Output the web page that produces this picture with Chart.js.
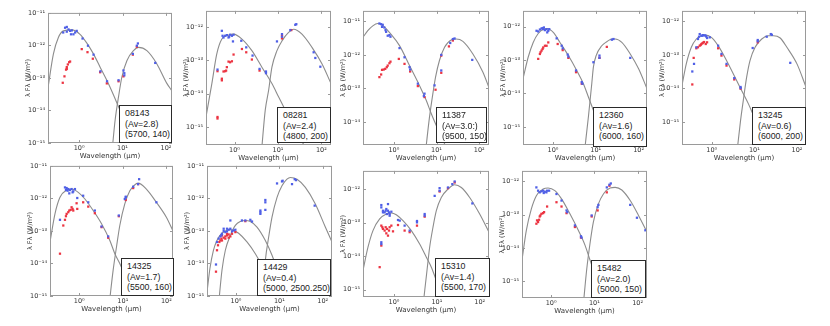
<!DOCTYPE html>
<html>
<head>
<meta charset="utf-8">
<script src="https://cdn.jsdelivr.net/npm/chart.js@4.4.1/dist/chart.umd.min.js"></script>
<style>
  body { margin: 0; width: 830px; height: 326px; background: #fff; position: relative; overflow: hidden; }
  canvas { position: absolute; }
  .tag {
    position: absolute; box-sizing: border-box; background: #fff;
    border: 1.8px solid #2a2a2a; padding: 2px 0 0 5px;
    font: 8.8px/10.6px "Liberation Sans", Arial, sans-serif; color: #222; white-space: nowrap;
  }
</style>
</head>
<body>
<script>
// ---- panel labels ----
const ids = ['08143', '08281', '11387', '12360', '13245', '14325', '14429', '15310', '15482'];
const avText = ['(Av=2.8)', '(Av=2.4)', '(Av=3.0:)', '(Av=1.6)', '(Av=0.6)', '(Av=1.7)', '(Av=0.4)', '(Av=1.4)', '(Av=2.0)'];
const fitText = ['(5700, 140)', '(4800, 200)', '(9500, 150)', '(6000, 160)', '(6000, 200)', '(5500, 160)', '(5000, 2500.250)', '(5500, 170)', '(5000, 150)'];

// ---- axis limits (wavelength in um, lambda F_lambda in W/m2) ----
const xMin = [0.192, 0.22, 0.19, 0.2, 0.2, 0.213, 0.214, 0.189, 0.212];
const xMax = [138, 167, 169, 157, 163, 142, 164, 165, 165];
const yMin = [1e-15, 2.9e-16, 2.03e-15, 2.85e-16, 2.03e-16, 1e-15, 1e-15, 6.05e-16, 3.2e-16];
const yMax = [1e-11, 3e-12, 2.07e-11, 3e-12, 2.07e-12, 1e-11, 1e-11, 3.5e-12, 2.07e-12];

// ---- 08143 ----
const blue08143 = [[0.475,3.5e-12],[0.52,3.7e-12],[0.57,3.1e-12],[0.43,2.5e-12],[0.62,2.8e-12],[0.68,2.9e-12],[0.52,2.65e-12],[0.81,2.5e-12],[0.88,2.8e-12],[0.74,2.2e-12],[0.65,2.2e-12],[1.2,1.63e-12],[1.6,9.8e-13],[2.15,5.2e-13],[3.1,1.6e-13],[4.4,7.9e-14],[8.1,8.5e-14],[10.5,1.7e-13],[11,1.4e-13],[11,1.2e-13],[17.3,5.5e-13],[21.4,9.8e-13],[22.6,1.15e-12],[56.7,2.9e-13]];
const red08143 = [[0.42,7.1e-14],[0.46,1.12e-13],[0.5,1.8e-13],[0.52,2.15e-13],[0.55,2.6e-13],[0.59,3.05e-13],[0.62,3.2e-13],[0.52,1.9e-13],[1.15,7.7e-13],[1.56,6.2e-13],[2.07,3.9e-13],[3.05,1.5e-13],[4.35,6.8e-14],[8.1,7.9e-14],[10.5,1.12e-13],[17.3,5.2e-13],[21.4,9.1e-13]];
const star08143 = [[0.192,5e-14],[0.256,5.5e-13],[0.333,1.75e-12],[0.435,2.8e-12],[0.68,3.0e-12],[1.05,2.2e-12],[1.56,1.1e-12],[2.14,5.5e-13],[3.05,2.15e-13],[4.35,8.5e-14],[6.2,3.0e-14],[8.1,1.3e-14],[11,5e-15],[15,2e-15],[20,8e-16]];
const dust08143 = [[5.7,5e-16],[5.98,1e-15],[6.77,5.2e-15],[8.1,2.65e-14],[9.66,1.07e-13],[12.6,3.4e-13],[17.9,6.9e-13],[23.4,8.7e-13],[36.4,6.9e-13],[61.9,2.7e-13],[105,6.8e-14],[138,4e-14]];

// ---- 08281 ----
const blue08281 = [[0.405,5.25e-14],[0.51,7.6e-13],[0.53,5.4e-13],[0.557,4.8e-13],[0.61,5.4e-13],[0.665,5.65e-13],[0.727,4.8e-13],[0.75,5.05e-13],[0.79,5.8e-13],[0.87,5.4e-13],[0.92,3.66e-13],[0.95,5.8e-13],[1.43,3.83e-13],[1.86,2.43e-13],[2.6,1.38e-13],[3.77,5.5e-14],[5.3,4.1e-14],[5.3,4.6e-14],[9.5,3.66e-13],[12.4,6.05e-13],[12.4,5.05e-13],[19.3,8.0e-13],[25.1,1.15e-12],[26.5,1.2e-12],[66.5,1.73e-13],[72.7,1.17e-13],[94.8,6.4e-14]];
const red08281 = [[0.405,1.8e-15],[0.405,2.0e-15],[0.405,4.7e-14],[0.51,2.8e-14],[0.51,2.5e-14],[0.557,4.6e-14],[0.61,4.7e-14],[0.64,4.9e-14],[0.665,6.2e-14],[0.727,9.1e-14],[0.79,8.7e-14],[0.87,9.3e-14],[0.95,1.48e-13],[1.48,2.17e-13],[1.86,1.73e-13],[2.51,1.05e-13],[3.77,4.9e-14],[12.4,5.4e-13],[12.4,4.5e-13],[20.3,8.0e-13]];
const star08281 = [[0.22,2.0e-15],[0.30,2.0e-14],[0.39,1.55e-13],[0.51,4.3e-13],[0.727,5.65e-13],[0.95,6.05e-13],[1.48,4.3e-13],[2.51,1.94e-13],[4.27,6.2e-14],[7.27,2.0e-14],[10.4,7.9e-15],[14.8,3.2e-15],[21,1.3e-15],[30,5.1e-16],[42.7,2.6e-16]];
const dust08281 = [[4.2,2e-16],[5.1,3.2e-15],[6.1,1.26e-14],[7.27,6.2e-14],[9.5,1.94e-13],[12.4,3.8e-13],[17.6,6.8e-13],[23,8.5e-13],[35.8,6.05e-13],[60.9,2.43e-13],[104,7.7e-14],[167,2.0e-14]];

// ---- 11387 ----
const blue11387 = [[0.46,8.7e-12],[0.505,8.3e-12],[0.55,7.95e-12],[0.53,6.9e-12],[0.6,6.6e-12],[0.64,5.5e-12],[0.66,4.9e-12],[0.72,3.75e-12],[0.79,3.9e-12],[0.835,3.5e-12],[1.36,1.6e-12],[1.78,8.5e-13],[2.33,4.3e-13],[2.41,3.66e-13],[3.65,1.38e-13],[5.23,6.95e-14],[5.05,5.9e-14],[8.98,1.23e-13],[12.9,3.43e-13],[12.9,1.0e-12],[20.9,2.27e-12],[24.1,2.98e-12],[26.4,3.1e-12],[68.5,7.1e-13]];
const red11387 = [[0.46,2.17e-13],[0.505,2.6e-13],[0.53,3.58e-13],[0.58,3.66e-13],[0.63,3.84e-13],[0.685,4.3e-13],[0.72,4.8e-13],[0.79,5.65e-13],[0.835,6.3e-13],[1.31,7.6e-13],[1.78,5.4e-13],[2.41,3.2e-13],[3.65,1.17e-13],[5.23,5.5e-14],[9.48,9.1e-14],[12.9,2.92e-13],[12.9,9.55e-13],[19.5,1.8e-12],[24.1,2.7e-12]];
const star11387 = [[0.19,3.35e-12],[0.246,5.3e-12],[0.322,7.4e-12],[0.42,8.7e-12],[0.6,6.9e-12],[0.79,4.7e-12],[1.36,1.9e-12],[2.33,4.8e-13],[3.65,1.54e-13],[5.73,4.4e-14],[7.5,1.77e-14],[9.8,7.9e-15],[14.1,2.85e-15],[20.2,1.0e-15]];
const dust11387 = [[5.6,1.5e-15],[6.85,1.4e-14],[8.2,6.95e-14],[9.48,2.17e-13],[11.7,6.8e-13],[15.4,1.69e-12],[22,2.8e-12],[28.9,2.98e-12],[41.4,2.55e-12],[71,1.07e-12],[122,3.05e-13],[169,1.05e-13]];

// ---- 12360 ----
const blue12360 = [[0.414,7.6e-13],[0.453,7.25e-13],[0.496,8.3e-13],[0.542,8.9e-13],[0.573,9.1e-13],[0.593,8.5e-13],[0.615,9.55e-13],[0.65,7.95e-13],[0.71,8.5e-13],[0.736,6.8e-13],[0.778,7.6e-13],[0.82,8.5e-13],[1.22,4.5e-13],[1.6,2.7e-13],[1.69,2.26e-13],[2.21,1.47e-13],[2.29,1.28e-13],[3.46,4.9e-14],[4.7,2.2e-14],[4.87,1.96e-14],[8.8,8.65e-14],[12.2,1.37e-13],[12.2,1.17e-13],[23.7,4.1e-13],[25.9,4.3e-13],[63.8,1.17e-13]];
const red12360 = [[0.453,1.09e-13],[0.496,1.53e-13],[0.514,1.72e-13],[0.542,1.93e-13],[0.573,2.16e-13],[0.593,2.4e-13],[0.65,2.7e-13],[0.71,2.7e-13],[0.778,3.4e-13],[1.29,3.05e-13],[1.69,2.0e-13],[2.29,1.17e-13],[3.46,4.35e-14],[4.7,1.96e-14],[12.2,1.17e-13],[18.1,2.5e-13]];
const star12360 = [[0.2,2.75e-14],[0.264,1.22e-13],[0.346,3.4e-13],[0.453,6.3e-13],[0.593,8.5e-13],[0.71,8.9e-13],[1.02,6.8e-13],[1.46,3.4e-13],[2.29,1.37e-13],[3.59,4.9e-14],[5.14,1.96e-14],[6.73,7.85e-15],[8.8,3.15e-15],[11.5,1.26e-15],[15.1,5.0e-16],[18.1,2.5e-16]];
const dust12360 = [[5.5,2e-16],[6.73,2.0e-15],[8.06,1.96e-14],[8.8,6.2e-14],[10.2,1.37e-13],[13.8,2.7e-13],[18.1,3.57e-13],[23.7,4.3e-13],[28.4,4.3e-13],[40.6,3.4e-13],[63.8,1.53e-13],[100,5.5e-14],[157,1.39e-14]];

// ---- 13245 ----
const blue13245 = [[0.349,3.2e-14],[0.383,5.4e-14],[0.434,1.69e-13],[0.475,2.99e-13],[0.502,3.5e-13],[0.521,4.2e-13],[0.57,3.75e-13],[0.602,3.75e-13],[0.624,3.9e-13],[0.684,3.84e-13],[0.722,3.75e-13],[0.748,3.5e-13],[0.776,3.2e-13],[0.897,3.35e-13],[1.41,1.89e-13],[1.69,1.07e-13],[2.22,5.4e-14],[3.37,2.03e-14],[4.75,1.1e-14],[4.75,1.02e-14],[9.13,1.61e-13],[12,2.55e-13],[12,2.79e-13],[19.5,3.5e-13],[24.3,4.2e-13],[25.7,4.0e-13],[69.6,5.8e-14]];
const red13245 = [[0.349,1.31e-14],[0.376,8.15e-14],[0.434,1.58e-13],[0.475,1.69e-13],[0.521,1.89e-13],[0.55,1.98e-13],[0.57,2.12e-13],[0.602,2.22e-13],[0.624,2.32e-13],[0.659,2.43e-13],[0.722,2.12e-13],[0.776,2.38e-13],[1.41,1.58e-13],[1.69,9.55e-14],[2.22,4.8e-14],[3.37,1.85e-14],[4.75,9.8e-15],[12,2.38e-13]];
const star13245 = [[0.2,1.23e-14],[0.252,5.4e-14],[0.331,1.69e-13],[0.434,2.99e-13],[0.57,3.75e-13],[0.684,3.9e-13],[0.98,3.35e-13],[1.41,1.89e-13],[2.22,6.8e-14],[3.49,2.17e-14],[5.02,8.7e-15],[7.21,3.5e-15],[9.47,1.58e-15],[12.4,7.1e-16],[16.3,2.85e-16]];
const dust13245 = [[3.97,1.5e-16],[4.75,1.12e-15],[5.5,4.4e-15],[6.59,2.17e-14],[7.9,6.8e-14],[10.4,1.69e-13],[14.9,2.99e-13],[21.4,3.75e-13],[28.1,3.75e-13],[40.4,3.2e-13],[58,1.69e-13],[100,5.4e-14],[163,1.1e-14]];

// ---- 14325 ----
const blue14325 = [[0.361,2.2e-13],[0.47,2.18e-12],[0.495,1.81e-12],[0.513,2.08e-12],[0.541,1.73e-12],[0.56,1.94e-12],[0.59,1.43e-12],[0.611,1.81e-12],[0.667,1.94e-12],[0.703,1.54e-12],[0.729,1.65e-12],[0.796,1.94e-12],[0.9,1.03e-12],[1.23,1.21e-12],[1.61,7.6e-13],[2.28,4.24e-13],[3.25,1.37e-13],[4.61,6.8e-14],[8.1,2.98e-13],[11.1,9.6e-13],[11.7,1.08e-12],[11.7,1.13e-12],[17.3,2.29e-12],[22.4,2.75e-12],[23.7,3.9e-12],[59,7.6e-13]];
const red14325 = [[0.361,2.0e-14],[0.43,1.47e-13],[0.47,2.2e-13],[0.495,2.84e-13],[0.513,3.35e-13],[0.56,3.77e-13],[0.59,4.24e-13],[0.634,4.44e-13],[0.667,5.35e-13],[0.703,4.76e-13],[0.729,4.24e-13],[0.869,7.1e-13],[0.9,4.76e-13],[1.23,7.6e-13],[1.61,5.6e-13],[2.28,3.51e-13],[3.25,1.31e-13],[4.61,6.2e-14],[8.1,2.84e-13],[11.7,8.95e-13],[17.3,2.08e-12],[22.4,2.75e-12]];
const star14325 = [[0.213,4.55e-14],[0.277,3.35e-13],[0.361,1.08e-12],[0.513,1.81e-12],[0.667,1.94e-12],[0.949,1.54e-12],[1.35,9.6e-13],[2.09,4.24e-13],[3.25,1.66e-13],[5.04,5.1e-14],[6.56,2.0e-14],[8.53,1.0e-14],[11.1,4.4e-15],[14.5,1.94e-15],[18.8,7.6e-16]];
const dust14325 = [[4.9,6e-16],[6.0,6.25e-15],[7.16,3.22e-14],[8.53,1.47e-13],[11.1,6.76e-13],[14.5,1.73e-12],[20.6,2.89e-12],[22.4,2.96e-12],[34.8,1.94e-12],[59,7.6e-13],[100,2.65e-13],[142,1.0e-13]];

// ---- 14429 (two stellar curves) ----
const blue14429 = [[0.364,4.57e-14],[0.398,5.8e-14],[0.435,6.8e-14],[0.475,8.2e-14],[0.519,9.9e-14],[0.567,9.2e-14],[0.62,9.7e-14],[0.677,1.09e-13],[0.74,1.17e-13],[0.809,9.7e-14],[0.884,1.04e-13],[0.74,2.1e-13],[0.345,9.3e-15],[0.459,7.3e-14],[0.519,1.17e-13],[0.62,1.17e-13],[0.966,1.09e-13],[1.37,2.1e-13],[1.64,2.1e-13],[2.14,2.2e-13],[2.34,1.95e-13],[3.65,3.77e-13],[3.65,4.24e-13],[3.65,3.35e-13],[4.75,8.95e-13],[4.75,7.6e-13],[4.75,4.44e-13],[8.84,2.89e-12],[11.5,3.33e-12],[11.9,3.49e-12],[19.6,2.75e-12],[22.6,3.9e-12],[24.2,3.65e-12],[65.3,6.0e-13]];
const red14429 = [[0.345,5.6e-15],[0.364,2.55e-14],[0.384,3.63e-14],[0.412,4.57e-14],[0.435,5.1e-14],[0.459,5.8e-14],[0.475,7.3e-14],[0.519,6.2e-14],[0.567,6.8e-14],[0.62,7.3e-14],[0.677,7.8e-14],[0.74,6.8e-14],[0.809,8.2e-14],[0.475,5.1e-14],[0.567,5.8e-14],[0.62,8.2e-14],[0.677,6.2e-14],[0.966,9.2e-14],[1.64,2.0e-13]];
const starA14429 = [[0.214,1.3e-15],[0.25,7e-15],[0.3,2.5e-14],[0.36,5e-14],[0.45,8e-14],[0.567,1.0e-13],[0.72,1.1e-13],[0.9,1.02e-13],[1.15,8.5e-14],[1.79,4.6e-14],[2.79,2.0e-14],[3.98,8.5e-15],[5.19,4e-15],[6.77,1.6e-15],[8.5,6e-16]];
const starB14429 = [[0.398,6e-16],[0.475,6.3e-15],[0.567,2.55e-14],[0.74,7.3e-14],[0.966,1.48e-13],[1.26,1.95e-13],[1.64,2.1e-13],[2.14,1.95e-13],[3.05,1.32e-13],[4.75,5.1e-14],[6.77,1.79e-14],[9.5,5e-15],[13,1.3e-15],[17,4e-16]];
const dust14429 = [[3.9,5e-16],[4.75,1.26e-14],[5.67,6.5e-14],[6.77,2.65e-13],[8.84,1.08e-12],[11.5,2.45e-12],[15,3.9e-12],[17.9,4.4e-12],[25.6,3.9e-12],[39.8,2.18e-12],[67.7,6.76e-13],[115,1.32e-13],[164,4.57e-14]];

// ---- 15310 ----
const blue15310 = [[0.506,3.35e-13],[0.506,2.85e-13],[0.553,2.27e-13],[0.553,2.03e-13],[0.605,2.03e-13],[0.639,2.27e-13],[0.662,2.55e-13],[0.687,1.81e-13],[0.724,3.58e-13],[0.724,2.27e-13],[0.764,2.03e-13],[0.792,1.81e-13],[0.867,2.12e-13],[0.506,2.6e-14],[0.506,2.3e-14],[0.792,1.61e-13],[1.24,1.2e-13],[1.36,1.15e-13],[1.77,8.15e-14],[2.32,5.8e-14],[3.44,1.12e-13],[3.44,1.02e-13],[5.2,1.81e-13],[5.2,1.61e-13],[8.9,6.3e-13],[11.6,8.9e-13],[11.6,1.07e-12],[18.2,1.12e-12],[23,1.41e-12],[26.1,1.69e-12],[67.4,3.75e-13]];
const red15310 = [[0.463,4.7e-15],[0.506,2.07e-14],[0.506,8.15e-14],[0.534,7.3e-14],[0.553,6.5e-14],[0.605,5.8e-14],[0.639,7.3e-14],[0.662,4.8e-14],[0.687,6.5e-14],[0.724,4.1e-14],[0.764,5.8e-14],[0.792,7.3e-14],[0.867,8.15e-14],[0.948,5.5e-14],[1.24,8.5e-14],[1.77,5.8e-14],[2.32,5.2e-14],[3.44,8.15e-14],[5.2,1.51e-13],[11.6,8.5e-13],[18.2,1.07e-12],[26.1,1.58e-12]];
const star15310 = [[0.189,3.75e-15],[0.247,1.85e-14],[0.323,5.8e-14],[0.463,1.29e-13],[0.662,1.81e-13],[0.867,1.94e-13],[1.13,1.73e-13],[1.62,1.15e-13],[2.54,5.8e-14],[3.97,2.3e-14],[5.69,9.3e-15],[7.44,4.7e-15],[9.73,1.9e-15],[12.7,7.6e-16],[16,3e-16]];
const dust15310 = [[4.93,5e-16],[5.89,3.75e-15],[6.8,1.85e-14],[8.13,7.3e-14],[9.73,2.27e-13],[12.7,5.65e-13],[18.2,1.0e-12],[26.1,1.35e-12],[37.3,1.12e-12],[58.4,5.65e-13],[100,1.81e-13],[165,5.2e-14]];

// ---- 15482 ----
const blue15482 = [[0.456,6.63e-13],[0.499,5.28e-13],[0.545,4.71e-13],[0.596,5.05e-13],[0.652,5.28e-13],[0.675,4.5e-13],[0.713,4.93e-13],[0.778,4.71e-13],[0.807,5.28e-13],[0.898,5.28e-13],[1.33,4.2e-13],[1.74,2.67e-13],[2.27,1.35e-13],[2.36,1.2e-13],[3.55,4.8e-14],[4.9,2.27e-14],[5.07,2.07e-14],[8.67,9.55e-14],[11.9,1.69e-13],[12.4,1.98e-13],[19.4,6.63e-13],[22.3,7.96e-13],[24,8.7e-13],[67.5,1.98e-13],[96.5,8.15e-14],[151,3.43e-14]];
const red15482 = [[0.456,5.4e-14],[0.472,6.8e-14],[0.499,6.05e-14],[0.526,7.1e-14],[0.545,8.9e-14],[0.565,9.55e-14],[0.596,1.07e-13],[0.652,1.12e-13],[0.687,1.2e-13],[0.807,1.77e-13],[1.33,2.38e-13],[1.74,1.77e-13],[2.27,1.12e-13],[3.55,4.3e-14],[4.9,2.07e-14],[8.67,8.9e-14],[11.9,1.35e-13],[19.4,4.71e-13],[22.3,7.43e-13]];
const star15482 = [[0.212,4.4e-15],[0.267,3.43e-14],[0.349,1.51e-13],[0.456,3.75e-13],[0.652,5.9e-13],[0.851,6.34e-13],[1.22,5.28e-13],[1.74,2.99e-13],[2.72,1.07e-13],[4.25,3.43e-14],[6.07,1.23e-14],[7.93,4.4e-15],[10.4,1.58e-15],[13.5,5.65e-16],[16.2,2.8e-16]];
const dust15482 = [[5.55,2e-16],[6.63,2.22e-15],[7.93,1.38e-14],[9.48,6.05e-14],[12.4,2.12e-13],[16.2,4.2e-13],[23.1,6.34e-13],[30.3,6.63e-13],[43.2,5.53e-13],[67.5,2.67e-13],[105,9.55e-14],[165,3.05e-14]];

const blueSets = [blue08143, blue08281, blue11387, blue12360, blue13245, blue14325, blue14429, blue15310, blue15482];
const redSets = [red08143, red08281, red11387, red12360, red13245, red14325, red14429, red15310, red15482];
const curveSets = [
  [star08143, dust08143], [star08281, dust08281], [star11387, dust11387],
  [star12360, dust12360], [star13245, dust13245], [star14325, dust14325],
  [starA14429, starB14429, dust14429], [star15310, dust15310], [star15482, dust15482]
];

// layout: plot frame [left, top, right, bottom] and label box [left, top, width, height]
const frames = [[48,12,172,143],[206,10,331,145],[363,10,489,145],[523,10,647,145],[682,10,806,145],
                [50,165,173,296],[207,165,332,296],[363,170,489,297],[522,170,647,298]];
const boxes = [[119,105,53,38],[277,107,54,36],[436,107,51,36],[593,107,54,40],[752,107,54,38],
               [121,258,53,38],[257,259,74,37],[435,258,55,39],[591,260,55,38]];

const SUP = {'-': '\u207B', '0': '\u2070', '1': '\u00B9', '2': '\u00B2', '3': '\u00B3', '4': '\u2074',
             '5': '\u2075', '6': '\u2076', '7': '\u2077', '8': '\u2078', '9': '\u2079'};
function powLabel(v) {
  const e = String(Math.round(Math.log10(v)));
  return '10' + e.split('').map(c => SUP[c]).join('');
}
function decadeTicks(scale) {
  const lo = Math.ceil(Math.log10(scale.min) - 1e-6);
  const hi = Math.floor(Math.log10(scale.max) + 1e-6);
  const t = [];
  for (let e = lo; e <= hi; e++) t.push({ value: Math.pow(10, e) });
  scale.ticks = t;
}
const pts = a => a.map(([x, y]) => ({ x, y }));

// frame + inward ticks, matplotlib-like
const framePlugin = {
  id: 'frame',
  afterDraw(chart) {
    const { ctx, chartArea: a, scales } = chart;
    ctx.save();
    ctx.strokeStyle = '#9a9a9a';
    ctx.lineWidth = 1;
    ctx.strokeRect(a.left + 0.5, a.top + 0.5, a.width - 1, a.height - 1);
    ctx.beginPath();
    scales.x.ticks.forEach(t => {
      const px = Math.round(scales.x.getPixelForValue(t.value)) + 0.5;
      ctx.moveTo(px, a.bottom); ctx.lineTo(px, a.bottom - 3);
      ctx.moveTo(px, a.top); ctx.lineTo(px, a.top + 3);
    });
    scales.y.ticks.forEach(t => {
      const py = Math.round(scales.y.getPixelForValue(t.value)) + 0.5;
      ctx.moveTo(a.left, py); ctx.lineTo(a.left + 3, py);
      ctx.moveTo(a.right, py); ctx.lineTo(a.right - 3, py);
    });
    ctx.stroke();
    ctx.restore();
  }
};

const PAD_L = 24, PAD_T = 6, PAD_R = 6, PAD_B = 17;
const TXT = '#333';
const noGrid = { display: false, drawTicks: false, tickLength: 0 };

function makePanel(i) {
  const [L, T, R, B] = frames[i];
  const cv = document.createElement('canvas');
  const w = R - L + PAD_L + PAD_R, h = B - T + PAD_T + PAD_B;
  cv.width = w; cv.height = h;
  cv.style.left = (L - PAD_L) + 'px';
  cv.style.top = (T - PAD_T) + 'px';
  cv.style.width = w + 'px';
  cv.style.height = h + 'px';
  document.body.appendChild(cv);

  const datasets = [
    { data: pts(blueSets[i]), backgroundColor: '#4f5fe6', pointRadius: 1.6, pointBorderWidth: 0, pointStyle: 'rect' },
    { data: pts(redSets[i]), backgroundColor: '#ec3442', pointRadius: 1.6, pointBorderWidth: 0, pointStyle: 'rect' }
  ];
  curveSets[i].forEach(c => datasets.push({
    data: pts(c), showLine: true, pointRadius: 0, borderColor: '#8c8c8c', borderWidth: 1.1,
    cubicInterpolationMode: 'monotone', fill: false
  }));

  new Chart(cv, {
    type: 'scatter',
    data: { datasets },
    plugins: [framePlugin],
    options: {
      responsive: false,
      animation: false,
      devicePixelRatio: 1,
      events: [],
      layout: { padding: { left: 0, top: PAD_T, right: PAD_R, bottom: 0 } },
      plugins: { legend: { display: false }, tooltip: { enabled: false } },
      scales: {
        x: {
          type: 'logarithmic', position: 'bottom', min: xMin[i], max: xMax[i],
          grid: noGrid, border: { display: false },
          afterBuildTicks: decadeTicks,
          afterFit: s => { s.height = PAD_B; },
          ticks: { callback: v => powLabel(v), maxRotation: 0, padding: 1,
                   font: { family: 'DejaVu Sans', size: 6.5 }, color: TXT },
          title: { display: true, text: 'Wavelength (\u03BCm)', padding: 0,
                   font: { family: 'DejaVu Sans', size: 7 }, color: TXT }
        },
        y: {
          type: 'logarithmic', position: 'left', min: yMin[i], max: yMax[i],
          grid: noGrid, border: { display: false },
          afterBuildTicks: decadeTicks,
          afterFit: s => { s.width = PAD_L; },
          ticks: { callback: v => powLabel(v), padding: 3,
                   font: { family: 'DejaVu Sans', size: 6.5 }, color: TXT },
          title: { display: true, text: '\u03BB F\u03BB (W/m\u00B2)', padding: 0,
                   font: { family: 'DejaVu Sans', size: 6.5 }, color: TXT }
        }
      }
    }
  });

  const [bl, bt, bw, bh] = boxes[i];
  const tag = document.createElement('div');
  tag.className = 'tag';
  tag.style.left = bl + 'px'; tag.style.top = bt + 'px';
  tag.style.width = bw + 'px'; tag.style.height = bh + 'px';
  [ids[i], avText[i], fitText[i]].forEach(line => {
    const d = document.createElement('div');
    d.textContent = line;
    tag.appendChild(d);
  });
  document.body.appendChild(tag);
}

for (let i = 0; i < ids.length; i++) makePanel(i);
</script>
</body>
</html>
